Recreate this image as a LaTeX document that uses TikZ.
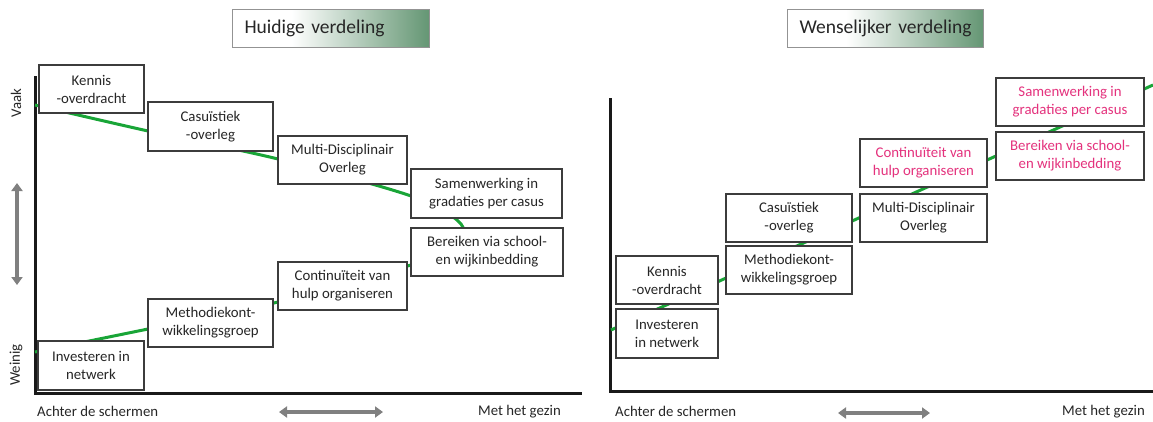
\documentclass[tikz,border=0pt]{standalone}
\usepackage{fontspec}
\setmainfont{Carlito}
\usetikzlibrary{arrows.meta}
\definecolor{tgreen}{RGB}{100,150,115}
\definecolor{lgreen}{RGB}{25,165,55}
\definecolor{pinktxt}{RGB}{228,50,125}
\definecolor{boxline}{RGB}{60,60,60}
\definecolor{txt}{RGB}{38,38,38}
\definecolor{arrgray}{RGB}{128,128,128}
\definecolor{axisblack}{RGB}{25,25,25}
\pgfdeclarehorizontalshading{titleshade}{100bp}{color(0bp)=(white); color(25bp)=(white); color(40bp)=(white); color(75bp)=(tgreen); color(100bp)=(tgreen)}
\tikzset{
  box/.style={draw=boxline, line width=1.3pt, fill=white, align=center, inner sep=0pt,
    font=\fontsize{14.8}{18}\selectfont, text=txt},
  pinkbox/.style={box, text=pinktxt},
  axisline/.style={line width=3pt, axisblack},
  trend/.style={line width=3pt, lgreen},
  garrow/.style={arrgray, line width=3.4pt, {Triangle[width=11pt,length=8pt]}-{Triangle[width=11pt,length=8pt]}},
  lbl/.style={font=\fontsize{14.8}{17}\selectfont, text=txt, inner sep=0pt},
  titlebox/.style={draw=gray!85, line width=1pt, shading=titleshade, inner xsep=12pt, inner ysep=0pt,
    minimum height=38pt, align=left, font=\fontsize{19.5}{22}\selectfont, text=txt, anchor=west}
}
\begin{document}
\begin{tikzpicture}[x=1pt, y=-1pt]
\useasboundingbox (0,0) rectangle (1153,421);

% titles
\node[titlebox, text width=173pt] (T1) at (232,28) {Huidige verdeling};
\node[titlebox, text width=172pt] (T2) at (787,28) {Wenselijker verdeling};

% axes
\coordinate (LT) at (35,76);
\coordinate (LO) at (35,393);
\coordinate (LE) at (582,393);
\draw[axisline] (LT) -- (LO) -- (LE);
\coordinate (RT) at (610,98);
\coordinate (RO) at (610,391);
\coordinate (RE) at (1153,391);
\draw[axisline] (RT) -- (RO) -- (RE);

% trend lines
\draw[trend] plot[smooth, tension=0.5] coordinates {(35,105) (148,131) (278,159) (411,196) (461,224) (456,250) (411,265) (278,302) (148,329) (35,352)};
\coordinate (RS) at (611,330);
\coordinate (RF) at (1153,85);
\draw[trend] (RS) -- (RF);

% left boxes
\node[box, minimum width=105pt, minimum height=48pt] (LKen) at (91.5,89) {Kennis\\-overdracht};
\node[box, minimum width=125pt, minimum height=49pt] (LCas) at (210.5,126.5) {Casuïstiek\\-overleg};
\node[box, minimum width=129pt, minimum height=48pt] (LMul) at (342.5,160) {Multi-Disciplinair\\Overleg};
\node[box, minimum width=151pt, minimum height=49pt] (LSam) at (486.5,193.5) {Samenwerking in\\gradaties per casus};
\node[box, minimum width=152pt, minimum height=48pt] (LBer) at (487,252) {Bereiken via school-\\en wijkinbedding};
\node[box, minimum width=129pt, minimum height=48pt] (LCon) at (342.5,286) {Continuïteit van\\hulp organiseren};
\node[box, minimum width=125pt, minimum height=48pt] (LMet) at (210.5,323) {Methodiekont-\\wikkelingsgroep};
\node[box, minimum width=106pt, minimum height=49pt] (LInv) at (91,365.5) {Investeren in\\netwerk};

% right boxes
\node[box, minimum width=102pt, minimum height=49pt] (RInv) at (667,333.5) {Investeren\\in netwerk};
\node[box, minimum width=102pt, minimum height=48pt] (RKen) at (667,280) {Kennis\\-overdracht};
\node[box, minimum width=126pt, minimum height=48pt] (RMet) at (789,270) {Methodiekont-\\wikkelingsgroep};
\node[box, minimum width=126pt, minimum height=48pt] (RCas) at (789,218) {Casuïstiek\\-overleg};
\node[box, minimum width=127pt, minimum height=48pt] (RMul) at (923.5,218) {Multi-Disciplinair\\Overleg};
\node[pinkbox, minimum width=127pt, minimum height=48pt] (RCon) at (923.5,163) {Continuïteit van\\hulp organiseren};
\node[pinkbox, minimum width=148pt, minimum height=48pt] (RBer) at (1070,156) {Bereiken via school-\\en wijkinbedding};
\node[pinkbox, minimum width=148pt, minimum height=48pt] (RSam) at (1070,102) {Samenwerking in\\gradaties per casus};

% axis labels
\node[lbl, rotate=90] (vaak) at (16,103) {Vaak};
\node[lbl, rotate=90] (weinig) at (16,365) {Weinig};
\coordinate (va1) at (17,183);
\coordinate (va2) at (17,285);
\draw[garrow] (va1) -- (va2);

\node[lbl, anchor=west] (ach1) at (37,411) {Achter de schermen};
\node[lbl, anchor=east] (met1) at (561,412) {Met het gezin};
\coordinate (ha1) at (279,412);
\coordinate (ha2) at (383,412);
\draw[garrow] (ha1) -- (ha2);

\node[lbl, anchor=west] (ach2) at (615,411) {Achter de schermen};
\node[lbl, anchor=east] (met2) at (1145,412) {Met het gezin};
\coordinate (hb1) at (838,413);
\coordinate (hb2) at (930,413);
\draw[garrow] (hb1) -- (hb2);
\end{tikzpicture}
\end{document}
